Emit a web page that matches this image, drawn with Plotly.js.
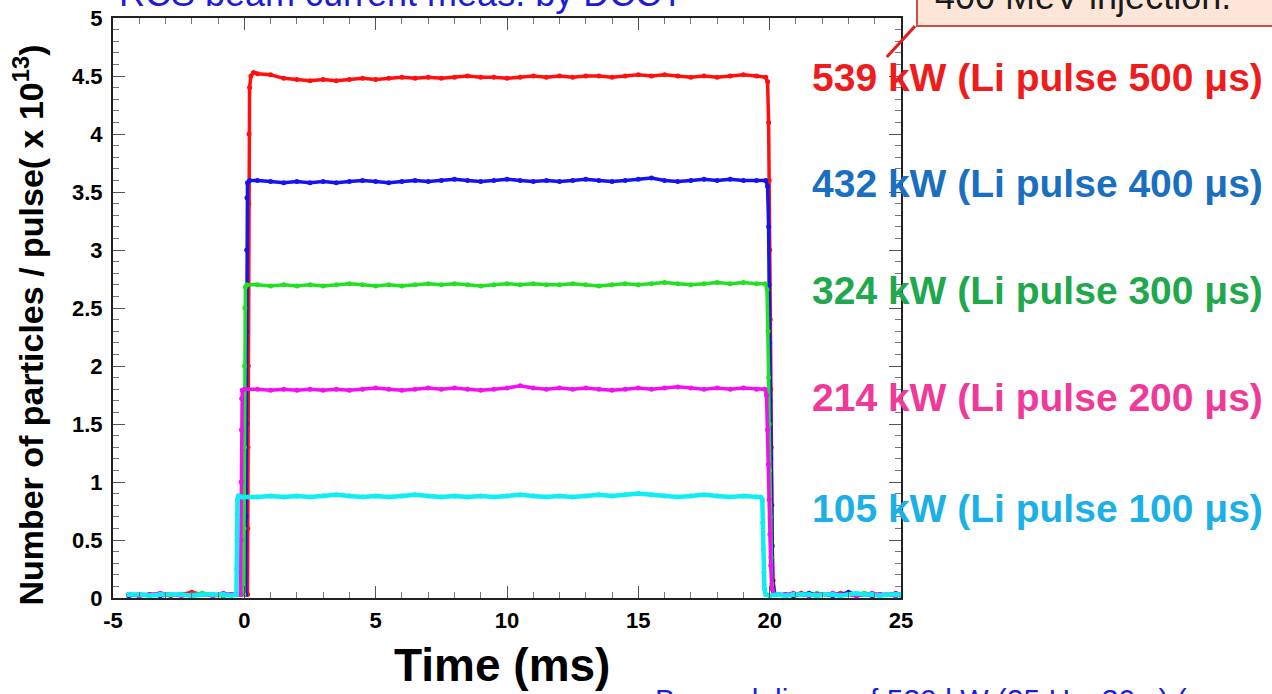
<!DOCTYPE html>
<html>
<head>
<meta charset="utf-8">
<script src="https://cdn.plot.ly/plotly-3.0.1.min.js"></script>
<style>html,body{margin:0;padding:0;background:#fff;}#chart{width:1272px;height:694px;}</style>
</head>
<body>
<div id="chart"></div>
<script>
// ---- shared time samples (ms) ----
const tPre  = [-4.4,-4.0,-3.6,-3.2,-2.8,-2.4,-2.0,-1.6,-1.2,-0.8,-0.5];
const tPlat = [0.5,1,1.5,2,2.5,3,3.5,4,4.5,5,5.5,6,6.5,7,7.5,8,8.5,9,9.5,10,10.5,11,11.5,12,12.5,13,13.5,14,14.5,15,15.5,16,16.5,17,17.5,18,18.5,19,19.5];
const tPost = [20.3,20.6,20.9,21.2,21.5,21.8,22.1,22.4,22.7,23.0,23.3,23.6,23.9,24.2,24.5,24.8,25.0];

// ---- series: 539 kW (red) ----
const redPre   = [0.03,0.02,0.03,0.03,0.02,0.03,0.05,0.03,0.02,0.03,0.03];
const redRiseT = [0.12,0.13,0.14,0.15,0.16,0.17,0.18,0.20,0.25,0.35];
const redRiseY = [0.03,0.6,1.3,2.0,2.7,3.4,4.0,4.40,4.50,4.53];
const redPlat  = [4.52,4.51,4.48,4.47,4.46,4.47,4.46,4.47,4.48,4.47,4.48,4.49,4.48,4.49,4.48,4.49,4.50,4.49,4.49,4.48,4.49,4.50,4.49,4.50,4.49,4.50,4.50,4.49,4.50,4.51,4.50,4.51,4.50,4.49,4.50,4.49,4.50,4.51,4.50];
const redFallT = [19.85,19.92,19.96,19.98,20.00,20.02,20.04,20.06,20.08,20.10,20.13,20.20];
const redFallY = [4.49,4.45,4.1,3.6,3.0,2.4,1.8,1.3,0.8,0.45,0.15,0.03];
const redPost  = [0.03,0.02,0.03,0.04,0.03,0.02,0.03,0.03,0.04,0.03,0.02,0.03,0.03,0.02,0.03,0.04,0.03];

// ---- series: 432 kW (blue) ----
const bluPre   = [0.02,0.03,0.03,0.02,0.03,0.03,0.02,0.03,0.03,0.02,0.03];
const bluRiseT = [0.05,0.06,0.07,0.08,0.09,0.10,0.12,0.20];
const bluRiseY = [0.03,0.7,1.5,2.3,3.0,3.45,3.58,3.60];
const bluPlat  = [3.60,3.59,3.58,3.59,3.58,3.59,3.58,3.59,3.60,3.59,3.58,3.59,3.60,3.59,3.60,3.61,3.60,3.59,3.60,3.61,3.60,3.59,3.60,3.59,3.60,3.61,3.60,3.59,3.60,3.61,3.62,3.60,3.59,3.60,3.61,3.60,3.61,3.60,3.60];
const bluFallT = [19.85,19.92,19.96,19.98,20.00,20.02,20.04,20.06,20.08,20.11,20.18];
const bluFallY = [3.60,3.55,3.2,2.7,2.2,1.7,1.2,0.8,0.45,0.15,0.03];
const bluPost  = [0.03,0.03,0.02,0.03,0.04,0.03,0.03,0.02,0.03,0.05,0.03,0.03,0.02,0.03,0.03,0.02,0.03];

// ---- series: 324 kW (green) ----
const grnPre   = [0.03,0.03,0.02,0.03,0.03,0.02,0.03,0.04,0.03,0.02,0.03];
const grnRiseT = [-0.02,-0.01,0.0,0.01,0.02,0.04,0.10];
const grnRiseY = [0.03,0.6,1.3,2.0,2.5,2.68,2.70];
const grnPlat  = [2.70,2.69,2.70,2.69,2.70,2.69,2.70,2.71,2.70,2.69,2.70,2.69,2.70,2.71,2.70,2.71,2.70,2.69,2.70,2.71,2.70,2.71,2.70,2.70,2.71,2.70,2.69,2.70,2.71,2.70,2.71,2.72,2.71,2.70,2.71,2.72,2.71,2.72,2.71];
const grnFallT = [19.83,19.90,19.94,19.96,19.98,20.00,20.02,20.05,20.08,20.15];
const grnFallY = [2.71,2.66,2.3,1.9,1.5,1.1,0.7,0.35,0.12,0.03];
const grnPost  = [0.03,0.02,0.03,0.03,0.02,0.04,0.03,0.03,0.02,0.03,0.03,0.04,0.03,0.02,0.03,0.03,0.02];

// ---- series: 214 kW (magenta) ----
const magPre   = [0.03,0.02,0.03,0.04,0.03,0.02,0.03,0.03,0.02,0.04,0.03];
const magRiseT = [-0.14,-0.13,-0.12,-0.11,-0.10,-0.08,0.0];
const magRiseY = [0.03,0.5,1.0,1.45,1.72,1.79,1.80];
const magPlat  = [1.80,1.79,1.80,1.79,1.80,1.79,1.80,1.79,1.80,1.81,1.80,1.79,1.80,1.81,1.80,1.81,1.80,1.79,1.80,1.81,1.83,1.81,1.80,1.81,1.80,1.81,1.80,1.79,1.80,1.81,1.80,1.81,1.82,1.81,1.80,1.81,1.80,1.81,1.80];
const magFallT = [19.82,19.88,19.92,19.95,19.98,20.01,20.04,20.08,20.15];
const magFallY = [1.80,1.75,1.45,1.15,0.85,0.55,0.28,0.08,0.03];
const magPost  = [0.03,0.03,0.04,0.03,0.02,0.03,0.03,0.04,0.03,0.03,0.02,0.03,0.04,0.03,0.03,0.02,0.03];

// ---- series: 105 kW (cyan) ----
const cyaPre   = [0.03,0.03,0.02,0.03,0.03,0.03,0.02,0.03,0.03,0.03,0.02];
const cyaRiseT = [-0.30,-0.29,-0.28,-0.27,-0.26,-0.22,-0.10];
const cyaRiseY = [0.03,0.25,0.5,0.72,0.85,0.88,0.87];
const cyaPlat  = [0.87,0.88,0.87,0.88,0.87,0.88,0.89,0.88,0.87,0.88,0.87,0.88,0.89,0.88,0.87,0.88,0.87,0.88,0.87,0.88,0.89,0.88,0.87,0.88,0.87,0.88,0.89,0.88,0.89,0.90,0.89,0.88,0.87,0.88,0.89,0.88,0.87,0.88,0.87];
const cyaFallT = [19.65,19.72,19.74,19.76,19.78,19.80,19.85,20.0];
const cyaFallY = [0.87,0.85,0.65,0.42,0.22,0.08,0.03,0.02];
const cyaPost  = [0.03,0.02,0.03,0.03,0.03,0.02,0.03,0.03,0.02,0.03,0.04,0.03,0.03,0.02,0.03,0.03,0.03];

// ---- labels ----
const labels = ["539 kW (Li pulse 500 \u03bcs)","432 kW (Li pulse 400 \u03bcs)","324 kW (Li pulse 300 \u03bcs)","214 kW (Li pulse 200 \u03bcs)","105 kW (Li pulse 100 \u03bcs)"];
const labelColors = ["#ee1c1c","#1a6fc0","#1fa84e","#ee3a98","#1db0e6"];
const traceColors = ["#ff1010","#1414ee","#22e022","#f010f0","#10eef2"];
const labelY = [0.898,0.7155,0.531,0.345,0.155];

const series = [
  [redPre,redRiseT,redRiseY,redPlat,redFallT,redFallY,redPost],
  [bluPre,bluRiseT,bluRiseY,bluPlat,bluFallT,bluFallY,bluPost],
  [grnPre,grnRiseT,grnRiseY,grnPlat,grnFallT,grnFallY,grnPost],
  [magPre,magRiseT,magRiseY,magPlat,magFallT,magFallY,magPost],
  [cyaPre,cyaRiseT,cyaRiseY,cyaPlat,cyaFallT,cyaFallY,cyaPost]
];

const traces = series.map((s,i)=>{
  const x = [].concat(tPre, s[1], tPlat, s[4], tPost);
  const y = [].concat(s[0], s[2], s[3], s[5], s[6]);
  return {x:x, y:y, type:'scatter', mode:'lines+markers', showlegend:false,
    line:{color:traceColors[i], width:(i===4?4.5:3.5)},
    marker:{color:traceColors[i], size:5}, cliponaxis:true, hoverinfo:'skip'};
});

const annotations = labels.map((t,i)=>({
  text:'<b>'+t+'</b>', xref:'paper', yref:'paper', x:0.885, y:labelY[i],
  xanchor:'left', yanchor:'middle', showarrow:false,
  font:{family:'Liberation Sans, Arial, sans-serif', size:39, color:labelColors[i]}
}));

annotations.push({text:'RCS beam current meas. by DCCT', xref:'paper', yref:'paper',
  x:0.005, y:1.004, xanchor:'left', yanchor:'bottom', showarrow:false,
  font:{family:'Liberation Sans, Arial, sans-serif', size:36, color:'#1c1cd8'}});
annotations.push({text:'400 MeV injection.', xref:'paper', yref:'paper',
  x:1.04, y:0.998, xanchor:'left', yanchor:'bottom', showarrow:false,
  font:{family:'Liberation Sans, Arial, sans-serif', size:36, color:'#1a1a1a'}});
annotations.push({text:'Beam delivery of 539 kW (25 Hz, 30 s) (', xref:'paper', yref:'paper',
  x:0.685, y:-0.143, xanchor:'left', yanchor:'top', showarrow:false,
  font:{family:'Liberation Sans, Arial, sans-serif', size:30, color:'#1c1cd8'}});
annotations.push({text:'<b>Number of particles / pulse( x 10<sup>13</sup>)</b>', xref:'paper', yref:'paper',
  x:-0.1076, y:0.47, xanchor:'center', yanchor:'middle', textangle:-90, showarrow:false,
  font:{family:'Liberation Sans, Arial, sans-serif', size:34, color:'#000'}});
annotations.push({text:'<b>Time (ms)</b>', xref:'paper', yref:'paper',
  x:0.4937, y:-0.115, xanchor:'center', yanchor:'middle', showarrow:false,
  font:{family:'Liberation Sans, Arial, sans-serif', size:46, color:'#000'}});

const shapes = [
  {type:'rect', xref:'paper', yref:'paper', x0:1.0203, x1:1.5, y0:0.986, y1:1.08,
   fillcolor:'#fde6d8', line:{color:'#c8504a', width:2}, layer:'above'},
  {type:'line', xref:'paper', yref:'paper', x0:0.982, y0:0.9328, x1:1.0178, y1:0.986,
   line:{color:'#e02020', width:3}, layer:'above'}
];

const axisFont = {family:'Liberation Sans, Arial, sans-serif', size:22, color:'#000', weight:'bold'};
const layout = {
  width:1272, height:694,
  margin:{l:113, r:371, t:18, b:96, pad:0},
  paper_bgcolor:'#fff', plot_bgcolor:'#fff',
  xaxis:{range:[-5,25], tickvals:[-5,0,5,10,15,20,25], ticktext:['-5','0','5','10','15','20','25'],
    ticks:'inside', ticklen:12, tickwidth:1, tickcolor:'#555', showline:true, linecolor:'#222', linewidth:2,
    mirror:'allticks', showgrid:false, zeroline:false, tickfont:axisFont, ticklabelstandoff:2,
    minor:{dtick:1, tick0:0, ticks:'inside', ticklen:6, tickcolor:'#777', showgrid:false}},
  yaxis:{range:[0,5], tickvals:[0,0.5,1,1.5,2,2.5,3,3.5,4,4.5,5], ticktext:['0','0.5','1','1.5','2','2.5','3','3.5','4','4.5','5'],
    ticks:'inside', ticklen:12, tickwidth:1, tickcolor:'#555', showline:true, linecolor:'#222', linewidth:2,
    mirror:'allticks', showgrid:false, zeroline:false, tickfont:axisFont, ticklabelstandoff:4,
    minor:{dtick:0.1, tick0:0, ticks:'inside', ticklen:6, tickcolor:'#777', showgrid:false}},
  annotations:annotations, shapes:shapes
};

Plotly.newPlot('chart', traces, layout, {staticPlot:true, displayModeBar:false});
</script>
</body>
</html>
